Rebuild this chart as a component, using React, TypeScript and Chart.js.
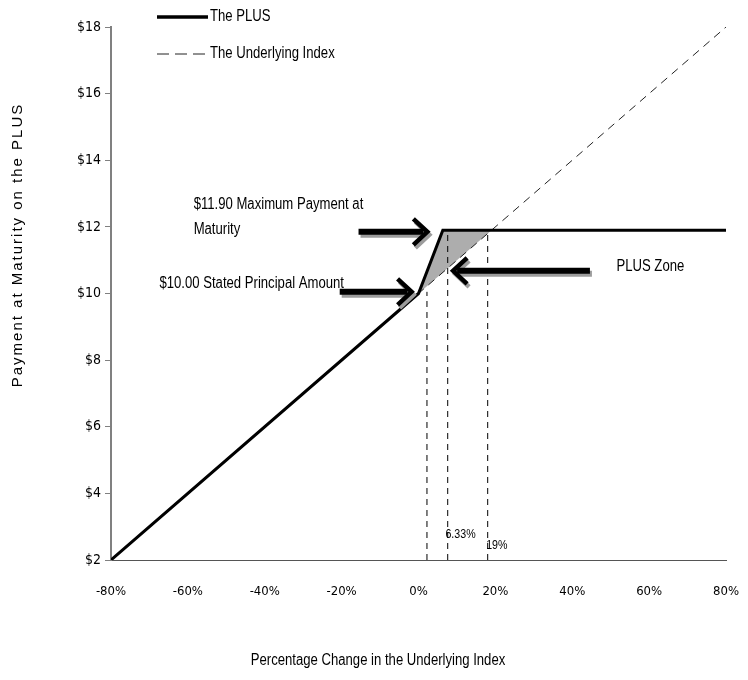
import React, { useEffect, useRef } from "react";
import { Chart, registerables } from "chart.js";

Chart.register(...registerables);

// ---- data ----
const xTickValues = [-80, -60, -40, -20, 0, 20, 40, 60, 80];
const yTickValues = [2, 4, 6, 8, 10, 12, 14, 16, 18];
const plusX = [-80, 0, 6.33, 80];
const plusY = [2, 10, 11.9, 11.9];
const underlyingX = [-80, 80];
const underlyingY = [2, 18];
const zoneX = [0, 6.33, 19, 0];
const zoneY = [10, 11.9, 11.9, 10];
// vertical reference lines (x position, top y)
const vlineX = [2.2, 7.6, 18];
const vlineTop = [10.05, 11.9, 11.9];
const legendLabels = ["The PLUS", "The Underlying Index"];
const xTitle = "Percentage Change in the Underlying Index";
const yTitle = "Payment at Maturity on the PLUS";

const TICKFONT = "'DejaVu Sans Condensed', 'Liberation Sans', sans-serif";
const WIDE = "'Liberation Sans', Arial, sans-serif";

function pts(xs: number[], ys: number[]) {
  return xs.map((x, i) => ({ x, y: ys[i] }));
}

// narrow text: Liberation Sans squeezed horizontally (Arial Narrow look)
function narrowText(ctx: CanvasRenderingContext2D, text: string, x: number, y: number, size: number, align: "left" | "center" = "left") {
  ctx.save();
  ctx.font = `${size}px ${WIDE}`;
  ctx.textBaseline = "middle";
  ctx.textAlign = align;
  ctx.translate(x, y);
  ctx.scale(0.82, 1);
  ctx.fillText(text, 0, 0);
  ctx.restore();
}

function drawArrow(ctx: CanvasRenderingContext2D, x1: number, y: number, x2: number) {
  const dir = Math.sign(x2 - x1);
  const pass = (dx: number, dy: number, color: string) => {
    ctx.save();
    ctx.strokeStyle = color;
    ctx.lineCap = "butt";
    ctx.lineJoin = "miter";
    ctx.lineWidth = 6;
    ctx.beginPath();
    ctx.moveTo(x1 + dx, y + dy);
    ctx.lineTo(x2 - dir * 4 + dx, y + dy);
    ctx.stroke();
    ctx.lineWidth = 4.5;
    ctx.beginPath();
    ctx.moveTo(x2 - dir * 14 + dx, y - 13 + dy);
    ctx.lineTo(x2 + dx, y + dy);
    ctx.lineTo(x2 - dir * 14 + dx, y + 13 + dy);
    ctx.stroke();
    ctx.restore();
  };
  pass(2, 3, "#9c9c9c");
  pass(0, 0, "#000000");
}

const annotationPlugin = {
  id: "annot",
  afterDatasetsDraw(chart: any) {
    const ctx: CanvasRenderingContext2D = chart.ctx;
    const xs = chart.scales.x;
    const ys = chart.scales.y;
    const X = (v: number) => xs.getPixelForValue(v);
    const Y = (v: number) => ys.getPixelForValue(v);

    // arrows
    drawArrow(ctx, X(-15.6), Y(11.85), X(2.3));
    drawArrow(ctx, X(-20.5), Y(10.05), X(-1.8));
    drawArrow(ctx, X(44.6), Y(10.68), X(9.0));

    ctx.save();
    ctx.fillStyle = "#000";
    narrowText(ctx, "$11.90 Maximum Payment at", X(-58.5), Y(12.68), 16);
    narrowText(ctx, "Maturity", X(-58.5), Y(11.93), 16);
    narrowText(ctx, "$10.00 Stated Principal Amount", X(-67.4), Y(10.3), 16);
    narrowText(ctx, "PLUS Zone", X(51.5), Y(10.8), 16);
    narrowText(ctx, "6.33%", X(7.0), Y(2.78), 13);
    narrowText(ctx, "19%", X(17.6), Y(2.45), 13);

    // legend
    ctx.strokeStyle = "#000";
    ctx.lineWidth = 3.5;
    ctx.beginPath();
    ctx.moveTo(149, 9);
    ctx.lineTo(200, 9);
    ctx.stroke();
    narrowText(ctx, legendLabels[0], 202, 9, 16);
    ctx.lineWidth = 1;
    ctx.strokeStyle = "#222";
    ctx.setLineDash([12, 6]);
    ctx.beginPath();
    ctx.moveTo(149, 46);
    ctx.lineTo(199, 46);
    ctx.stroke();
    ctx.setLineDash([]);
    narrowText(ctx, legendLabels[1], 202, 46, 16);

    // axis titles
    narrowText(ctx, xTitle, 370, 653, 16, "center");
    ctx.save();
    ctx.translate(10, 237);
    ctx.rotate(-Math.PI / 2);
    ctx.font = `15px ${WIDE}`;
    ctx.textAlign = "center";
    ctx.textBaseline = "middle";
    (ctx as any).letterSpacing = "2px";
    ctx.fillText(yTitle, 0, 0);
    ctx.restore();
    ctx.restore();
  },
};

export default function App() {
  const ref = useRef<HTMLCanvasElement | null>(null);
  useEffect(() => {
    if (!ref.current) return;
    const vlineSets = vlineX.map((vx, i) => ({
      data: pts([vx, vx], [2, vlineTop[i]]),
      borderColor: "#000",
      borderWidth: 1,
      borderDash: [6, 5],
      pointRadius: 0,
      fill: false,
      order: 2,
    }));
    const chart = new Chart(ref.current, {
      type: "line",
      data: {
        datasets: [
          {
            data: pts(zoneX, zoneY),
            borderColor: "rgba(0,0,0,0)",
            borderWidth: 0,
            backgroundColor: "#adadad",
            fill: "shape",
            pointRadius: 0,
            order: 4,
          } as any,
          ...vlineSets,
          {
            data: pts(underlyingX, underlyingY),
            borderColor: "#222",
            borderWidth: 1,
            borderDash: [8, 6],
            pointRadius: 0,
            fill: false,
            order: 2,
          },
          {
            data: pts(plusX, plusY),
            borderColor: "#000",
            borderWidth: 3,
            pointRadius: 0,
            fill: false,
            order: 1,
          },
        ],
      },
      options: {
        animation: false,
        responsive: true,
        maintainAspectRatio: false,
        layout: { padding: { top: 19, right: 14, left: 0, bottom: 0 } },
        plugins: { legend: { display: false }, tooltip: { enabled: false } },
        elements: { line: { tension: 0 } },
        scales: {
          x: {
            type: "linear",
            min: -80,
            max: 80,
            afterFit: (s: any) => {
              s.height = 112;
              s.paddingLeft = 0;
              s.paddingRight = 0;
            },
            afterBuildTicks: (s: any) => { s.ticks = xTickValues.map((v) => ({ value: v })); },
            ticks: {
              color: "#000",
              font: { family: TICKFONT, size: 13 },
              padding: 24,
              maxRotation: 0,
              callback: (v: any) => `${v}%`,
            },
            grid: { display: false, drawTicks: false },
            border: { display: true, color: "#555", width: 1 },
          },
          y: {
            min: 2,
            max: 18,
            afterFit: (s: any) => {
              s.width = 103;
              s.paddingTop = 0;
              s.paddingBottom = 0;
            },
            afterBuildTicks: (s: any) => { s.ticks = yTickValues.map((v) => ({ value: v })); },
            ticks: {
              color: "#000",
              font: { family: TICKFONT, size: 14 },
              padding: 4,
              callback: (v: any) => `$${v}`,
            },
            grid: { drawOnChartArea: false, drawTicks: true, tickLength: 6, color: "#808080" },
            border: { display: true, color: "#808080", width: 2 },
          },
        },
      },
      plugins: [annotationPlugin],
    });
    return () => chart.destroy();
  }, []);
  return (
    <div style={{ width: 732, height: 664, position: "relative" }}>
      <canvas ref={ref} />
    </div>
  );
}
